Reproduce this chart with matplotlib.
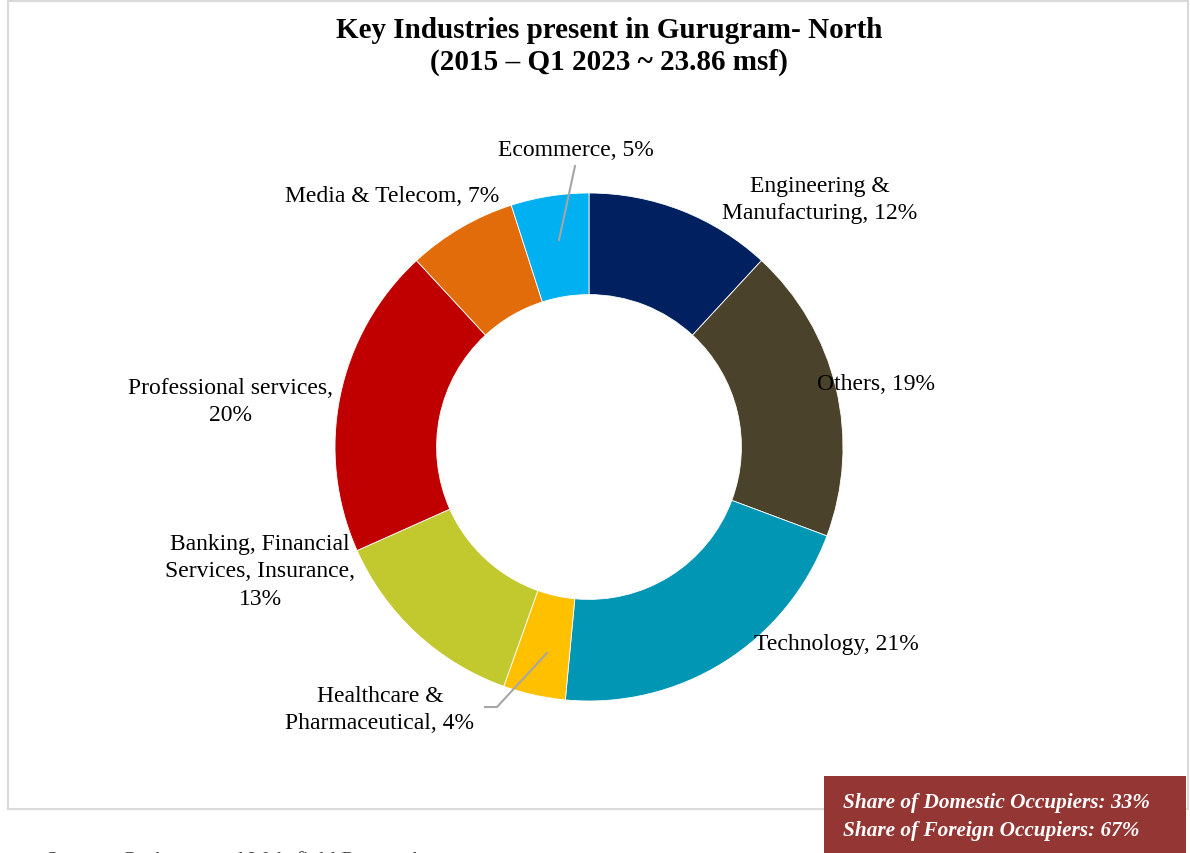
import matplotlib.pyplot as plt
from matplotlib.patches import Rectangle
from matplotlib.lines import Line2D

plt.rcParams['font.family'] = ['Liberation Serif', 'DejaVu Serif']

# Data (clockwise from 12 o'clock)
industries = ['Engineering &\nManufacturing', 'Others', 'Technology',
              'Healthcare &\nPharmaceutical', 'Banking, Financial\nServices, Insurance,',
              'Professional services,', 'Media & Telecom', 'Ecommerce']
shares = [12, 19, 21, 4, 13, 20, 7, 5]
colors = ['#002060', '#4A422A', '#0096B4', '#FFC000',
          '#C2C92E', '#C00000', '#E36C0A', '#00B0F0']

W, H = 1190, 854
fig = plt.figure(figsize=(W / 100, H / 100), dpi=100)

def fx(x):
    return x / W

def fy(y):
    return 1 - y / H

# outer chart border
fig.patches.append(Rectangle((fx(8), fy(810)), fx(1180), fy(2) - fy(810),
                             transform=fig.transFigure, fill=False,
                             edgecolor='#D9D9D9', linewidth=1.5))

# donut
cx, cy, r = 589, 448, 254
ax = fig.add_axes([fx(cx - r), fy(cy + r), 2 * r / W, 2 * r / H])
ax.pie(shares, colors=colors, startangle=90, counterclock=False, radius=1,
       wedgeprops=dict(width=0.4, edgecolor='white', linewidth=0.6))
ax.set_xlim(-1, 1)
ax.set_ylim(-1, 1)
ax.axis('off')

# title
fig.text(fx(609), fy(30), 'Key Industries present in Gurugram- North',
         ha='center', va='center', fontsize=21, fontweight='bold')
fig.text(fx(609), fy(62), '(2015 \u2013 Q1 2023 ~ 23.86 msf)',
         ha='center', va='center', fontsize=21, fontweight='bold')

# labels
label_pos = [(820, 200), (876, 385), (836, 645), (380, 710),
             (260, 572), (231, 402), (392, 197), (576, 150)]
for name, val, (lx, ly) in zip(industries, shares, label_pos):
    if name.endswith(','):
        txt = f'{name}\n{val}%'
    else:
        txt = f'{name}, {val}%'
    fig.text(fx(lx), fy(ly), txt, ha='center', va='center',
             fontsize=17, linespacing=1.38)

# leader lines
fig.lines.append(Line2D([fx(575), fx(559)], [fy(167), fy(241)],
                        transform=fig.transFigure, color='#A6A6A6', lw=1.5))
fig.lines.append(Line2D([fx(547), fx(497), fx(485)], [fy(654), fy(708), fy(708)],
                        transform=fig.transFigure, color='#A6A6A6', lw=1.5))

# occupier share box
fig.patches.append(Rectangle((fx(824), fy(856)), fx(1186) - fx(824), fy(777) - fy(856),
                             transform=fig.transFigure, facecolor='#943634',
                             edgecolor='none'))
fig.text(fx(843), fy(803), 'Share of Domestic Occupiers: 33%', color='white',
         ha='left', va='center', fontsize=15.3, fontweight='bold', fontstyle='italic')
fig.text(fx(843), fy(831), 'Share of Foreign Occupiers: 67%', color='white',
         ha='left', va='center', fontsize=15.3, fontweight='bold', fontstyle='italic')

# source (cut off at the bottom edge, as in the reference)
fig.text(fx(45), fy(866), 'Source: Cushman and Wakefield Research',
         ha='left', va='baseline', fontsize=16, fontstyle='italic', color='#404040')

fig.savefig('out.png', dpi=100)
